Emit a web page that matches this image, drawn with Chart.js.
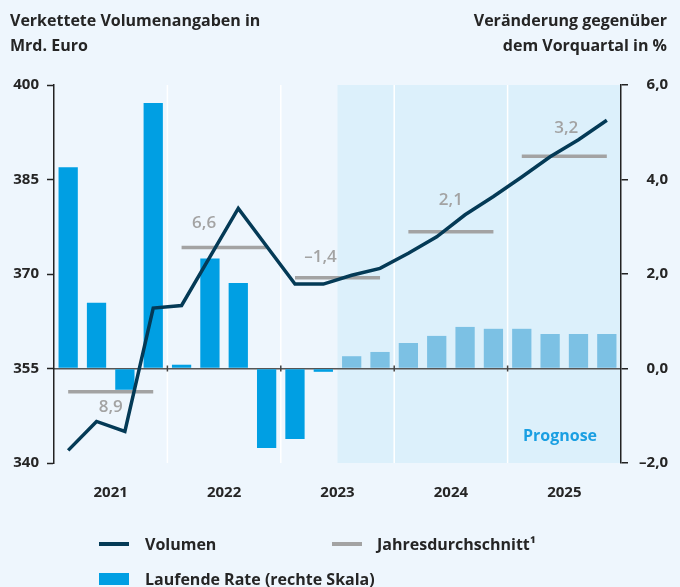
<!DOCTYPE html>
<html lang="de">
<head>
<meta charset="utf-8">
<script src="https://cdn.jsdelivr.net/npm/chart.js@4.4.1/dist/chart.umd.min.js"></script>
<style>
  body { margin: 0; background: #eef6fd; font-family: "Open Sans", sans-serif; color: #252525; }
  #wrap { position: relative; width: 680px; height: 587px; }
  #wrap canvas { position: absolute; left: 0; top: 0; }
  .titel { position: absolute; top: 8px; font-size: 16px; font-weight: 700; line-height: 25px; }
  .leg { position: absolute; font-size: 16px; font-weight: 700; line-height: 20px; }
  .mark { position: absolute; width: 30px; }
</style>
</head>
<body>
<div id="wrap">
  <canvas id="chart" width="680" height="587"></canvas>
  <div class="titel" style="left:10px">Verkettete Volumenangaben in<br>Mrd. Euro</div>
  <div class="titel" style="right:13px; text-align:right">Veränderung gegenüber<br>dem Vorquartal in %</div>

  <div class="mark" style="left:99px; top:542px; height:4px; background:#043a56"></div>
  <div class="leg" style="left:145px; top:534px">Volumen</div>
  <div class="mark" style="left:332px; top:542px; height:4px; background:#a3a3a3"></div>
  <div class="leg" style="left:377px; top:534px">Jahresdurchschnitt¹</div>
  <div class="mark" style="left:99px; top:573px; height:12px; background:#009fe3"></div>
  <div class="leg" style="left:145px; top:569px">Laufende Rate (rechte Skala)</div>
</div>

<script>
// Quartale 2021 bis 2025
const quartale = ['Q1 21', 'Q2 21', 'Q3 21', 'Q4 21', 'Q1 22', 'Q2 22', 'Q3 22', 'Q4 22',
  'Q1 23', 'Q2 23', 'Q3 23', 'Q4 23', 'Q1 24', 'Q2 24', 'Q3 24', 'Q4 24',
  'Q1 25', 'Q2 25', 'Q3 25', 'Q4 25'];
const jahre = ['2021', '2022', '2023', '2024', '2025'];

// Volumen in Mrd. Euro (linke Skala)
const volumen = [342.0, 346.6, 345.0, 364.6, 365.0, 372.7, 380.4, 374.4, 368.4, 368.4,
  369.8, 370.9, 373.3, 375.9, 379.4, 382.3, 385.4, 388.6, 391.3, 394.4];

// Laufende Rate in % (rechte Skala)
const rate = [4.26, 1.39, -0.45, 5.62, 0.08, 2.33, 1.81, -1.68, -1.49, -0.07,
  0.26, 0.35, 0.54, 0.69, 0.88, 0.84, 0.84, 0.73, 0.73, 0.73];

// Jahresdurchschnitt (Niveau) und Veraenderung zum Vorjahr
const jahresMittel = [351.3, 374.2, 369.4, 376.7, 388.7];
const jahresRate = ['8,9', '6,6', '–1,4', '2,1', '3,2'];

const prognoseAb = 10; // erstes Prognosequartal (Q3 2023)

const dunkelblau = '#043a56';
const hellblau = '#009fe3';
const prognoseBlau = '#7cc1e4';
const grau = '#a3a3a3';
const schrift = '#252525';

// Lage der Beschriftungen zum Jahresdurchschnitt (dx, dy in px)
const labelVersatz = [[0, 15], [-20, -24], [-17, -21], [0, -32], [2, -28]];

const mittelProQuartal = quartale.map((q, i) => jahresMittel[Math.floor(i / 4)]);

const hintergrund = {
  id: 'hintergrund',
  beforeDraw(chart) {
    const { ctx, chartArea: a, scales } = chart;
    const x = scales.x;
    const step = x.getPixelForValue(1) - x.getPixelForValue(0);
    const xStart = x.getPixelForValue(prognoseAb) - step / 2;
    ctx.save();
    ctx.fillStyle = '#dcf0fb';
    ctx.fillRect(xStart, a.top, a.right - xStart, a.bottom - a.top);
    // Jahrestrennlinien
    ctx.strokeStyle = '#ffffff';
    ctx.lineWidth = 1.5;
    for (let j = 1; j < jahre.length; j++) {
      const xp = x.getPixelForValue(j * 4) - step / 2;
      ctx.beginPath();
      ctx.moveTo(xp, a.top);
      ctx.lineTo(xp, a.bottom);
      ctx.stroke();
    }
    ctx.restore();
  },
  beforeDatasetsDraw(chart) {
    const { ctx, scales } = chart;
    const x = scales.x;
    const step = x.getPixelForValue(1) - x.getPixelForValue(0);
    const y0 = scales.y1.getPixelForValue(0);
    ctx.save();
    ctx.strokeStyle = '#444';
    ctx.lineWidth = 1.5;
    for (let j = 1; j < jahre.length; j++) {
      const xp = x.getPixelForValue(j * 4) - step / 2;
      ctx.beginPath();
      ctx.moveTo(xp, y0 - 3);
      ctx.lineTo(xp, y0 + 3);
      ctx.stroke();
    }
    ctx.restore();
  },
  afterDatasetsDraw(chart) {
    const { ctx, scales } = chart;
    const x = scales.x;
    ctx.save();
    ctx.font = '600 17px "Open Sans", sans-serif';
    ctx.textAlign = 'center';
    ctx.textBaseline = 'middle';
    ctx.fillStyle = grau;
    jahresRate.forEach((txt, j) => {
      const xm = (x.getPixelForValue(j * 4) + x.getPixelForValue(j * 4 + 3)) / 2;
      const ym = scales.y.getPixelForValue(jahresMittel[j]);
      ctx.fillText(txt, xm + labelVersatz[j][0], ym + labelVersatz[j][1]);
    });
    ctx.font = '700 16px "Open Sans", sans-serif';
    ctx.fillStyle = '#1a9fe2';
    ctx.fillText('Prognose', 560, 436);
    ctx.restore();
  }
};

const tickFont = { family: '"Open Sans", sans-serif', size: 15, weight: '700' };

new Chart(document.getElementById('chart'), {
  type: 'bar',
  data: {
    labels: quartale,
    datasets: [{
      type: 'line',
      label: 'Volumen',
      data: volumen,
      xAxisID: 'x',
      yAxisID: 'y',
      borderColor: dunkelblau,
      borderWidth: 3.5,
      pointRadius: 0,
      tension: 0,
      order: 0
    }, {
      type: 'line',
      label: 'Jahresdurchschnitt',
      data: mittelProQuartal,
      xAxisID: 'x',
      yAxisID: 'y',
      borderColor: grau,
      borderWidth: 3.5,
      pointRadius: 0,
      segment: {
        borderColor: c => Math.floor(c.p0DataIndex / 4) !== Math.floor(c.p1DataIndex / 4) ? 'transparent' : grau
      },
      order: 1
    }, {
      type: 'bar',
      label: 'Laufende Rate (rechte Skala)',
      data: rate,
      xAxisID: 'x',
      yAxisID: 'y1',
      backgroundColor: rate.map((v, i) => i >= prognoseAb ? prognoseBlau : hellblau),
      barPercentage: 0.68,
      categoryPercentage: 1,
      order: 2
    }]
  },
  options: {
    animation: false,
    responsive: false,
    layout: { padding: { top: 85, left: 0, right: 12, bottom: 84 } },
    plugins: { legend: { display: false }, tooltip: { enabled: false } },
    scales: {
      x: { display: false, offset: true },
      x2: {
        type: 'category',
        labels: jahre,
        position: 'bottom',
        offset: true,
        grid: { display: false },
        border: { display: false },
        ticks: { color: schrift, font: tickFont, padding: 13 },
        afterFit: s => { s.height = 40; }
      },
      y: {
        position: 'left',
        min: 340,
        max: 400,
        ticks: { stepSize: 15, color: schrift, font: tickFont, padding: 8 },
        grid: { drawOnChartArea: false, tickLength: 7, tickColor: '#222', tickWidth: 1.5 },
        border: { color: '#222', width: 1.5 },
        afterFit: s => { s.width = 54; }
      },
      y1: {
        position: 'right',
        min: -2,
        max: 6,
        ticks: {
          stepSize: 2,
          color: schrift,
          font: tickFont,
          padding: 8,
          crossAlign: 'far',
          callback: v => v.toFixed(1).replace('.', ',').replace('-', '–')
        },
        grid: {
          color: c => c.tick && c.tick.value === 0 ? '#555' : 'transparent',
          lineWidth: 1.5,
          tickLength: 7,
          tickColor: '#222',
          tickWidth: 1.5
        },
        border: { color: '#222', width: 1.5 },
        afterFit: s => { s.width = 47; }
      }
    }
  },
  plugins: [hintergrund]
});
</script>
</body>
</html>
